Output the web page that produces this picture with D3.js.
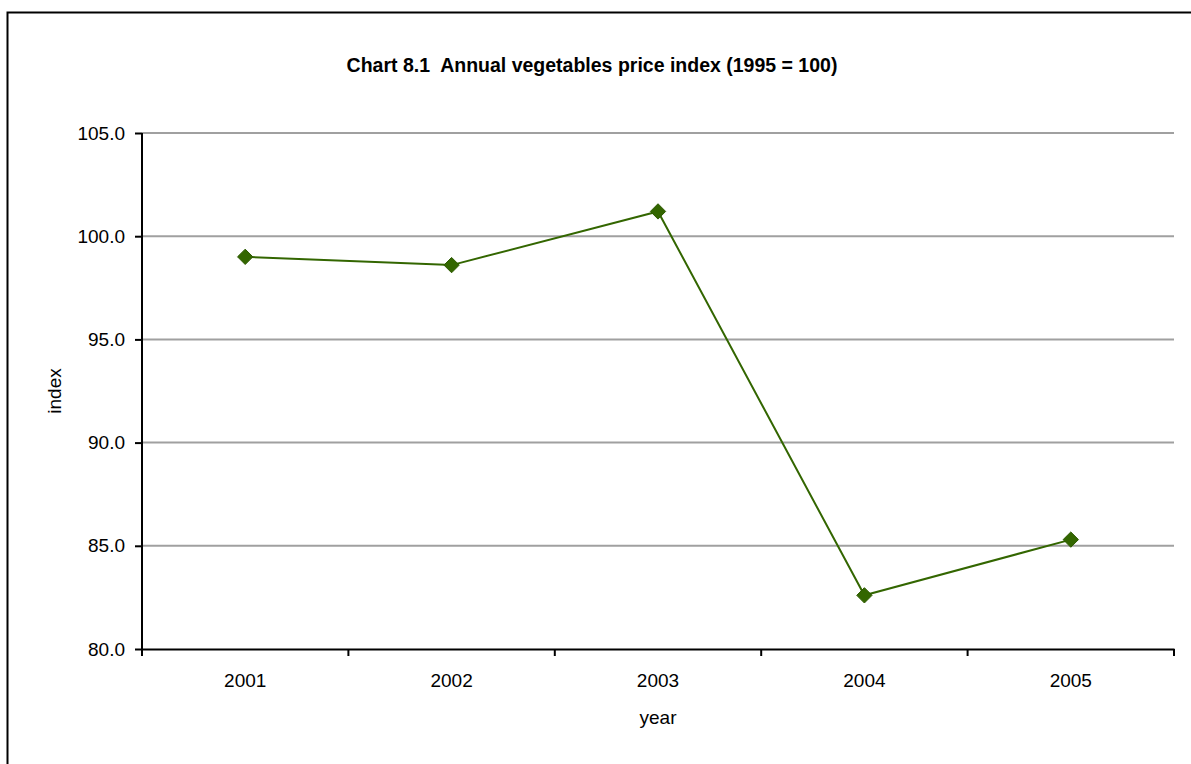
<!DOCTYPE html>
<html>
<head>
<meta charset="utf-8">
<script src="https://cdn.jsdelivr.net/npm/d3@7"></script>
<style>
  body { margin: 0; background: #fff; }
  text { font-family: "Liberation Sans", Arial, sans-serif; fill: #000; }
</style>
</head>
<body>
<script>
// data
var years = ["2001", "2002", "2003", "2004", "2005"];
var index = [99.0, 98.6, 101.2, 82.6, 85.3];
var yTicks = [80, 85, 90, 95, 100, 105];

var width = 1191, height = 764;
var plotLeft = 142, plotRight = 1174, plotTop = 133, plotBottom = 649;
var fontSize = "19px";

var svg = d3.select("body").append("svg")
    .attr("width", width)
    .attr("height", height);

// chart frame (runs off the right and bottom edges)
svg.append("rect")
    .attr("x", 7.5)
    .attr("y", 12.5)
    .attr("width", 1200)
    .attr("height", 800)
    .style("fill", "none")
    .style("stroke", "#000")
    .style("stroke-width", 2);

var x = d3.scaleBand()
    .domain(years)
    .range([plotLeft, plotRight]);

var y = d3.scaleLinear()
    .domain([80, 105])
    .range([plotBottom, plotTop]);

// horizontal gridlines
svg.append("g").selectAll("line")
    .data(yTicks.slice(1))
    .enter()
    .append("line")
    .attr("x1", plotLeft)
    .attr("x2", plotRight)
    .attr("y1", function(d) { return y(d); })
    .attr("y2", function(d) { return y(d); })
    .style("stroke", "#a0a0a0")
    .style("stroke-width", 2);

// y axis
var yAxis = d3.axisLeft(y)
    .tickValues(yTicks)
    .tickFormat(d3.format(".1f"))
    .tickSize(7)
    .tickSizeOuter(0);

var gy = svg.append("g")
    .attr("transform", "translate(" + plotLeft + ",0)")
    .call(yAxis);
gy.select(".domain").style("stroke", "#000").style("stroke-width", 2)
    .attr("d", "M0," + (plotBottom + 7) + "V" + plotTop);
gy.selectAll(".tick line").style("stroke-width", 2);
gy.selectAll(".tick text")
    .attr("x", -17)
    .style("font-size", fontSize)
    .style("font-family", "'Liberation Sans', Arial, sans-serif");

// x axis, ticks between categories
var xAxis = d3.axisBottom(x).tickSize(0).tickSizeOuter(0);
var gx = svg.append("g")
    .attr("transform", "translate(0," + plotBottom + ")")
    .call(xAxis);
gx.select(".domain").style("stroke", "#000").style("stroke-width", 2);
gx.selectAll(".tick text")
    .attr("y", 25)
    .attr("dy", "0.71em")
    .style("font-size", fontSize)
    .style("font-family", "'Liberation Sans', Arial, sans-serif");

svg.append("g").selectAll("line")
    .data(years)
    .enter()
    .append("line")
    .attr("x1", function(d) { return x(d) + x.step(); })
    .attr("x2", function(d) { return x(d) + x.step(); })
    .attr("y1", plotBottom)
    .attr("y2", plotBottom + 7)
    .style("stroke", "#000")
    .style("stroke-width", 2);

// the series line
var points = years.map(function(d, i) { return { year: d, value: index[i] }; });

var line = d3.line()
    .x(function(d) { return x(d.year) + x.bandwidth() / 2; })
    .y(function(d) { return y(d.value); });

svg.append("path")
    .datum(points)
    .attr("d", line)
    .style("fill", "none")
    .style("stroke", "#336600")
    .style("stroke-width", 2);

// diamond markers
svg.append("g").selectAll("path")
    .data(points)
    .enter()
    .append("path")
    .attr("d", d3.symbol().type(d3.symbolDiamond2).size(150))
    .attr("transform", function(d) {
        return "translate(" + (x(d.year) + x.bandwidth() / 2) + "," + y(d.value) + ")";
    })
    .style("fill", "#336600")
    .style("stroke", "#2d5a00")
    .style("stroke-width", 1);

// titles
svg.append("text")
    .attr("x", 592)
    .attr("y", 72)
    .attr("text-anchor", "middle")
    .style("font-size", "19.5px")
    .style("font-weight", "bold")
    .style("white-space", "pre")
    .text("Chart 8.1  Annual vegetables price index (1995 = 100)");

svg.append("text")
    .attr("transform", "translate(61," + (plotTop + plotBottom) / 2 + ") rotate(-90)")
    .attr("text-anchor", "middle")
    .style("font-size", fontSize)
    .text("index");

svg.append("text")
    .attr("x", (plotLeft + plotRight) / 2)
    .attr("y", 724)
    .attr("text-anchor", "middle")
    .style("font-size", fontSize)
    .text("year");
</script>
</body>
</html>
